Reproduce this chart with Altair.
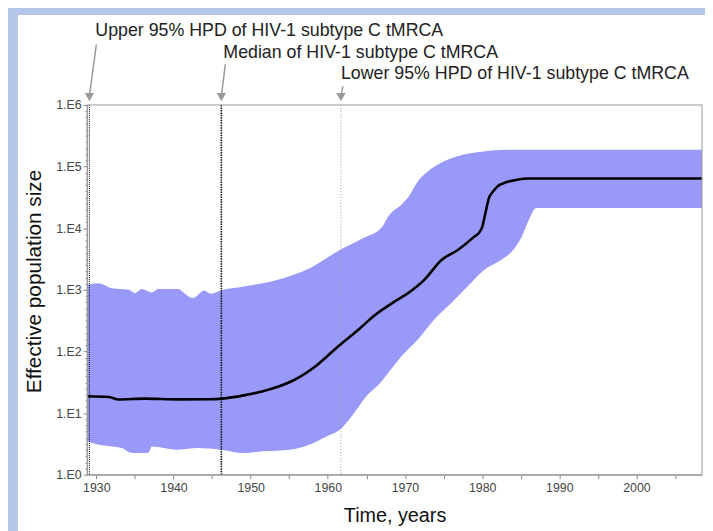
import altair as alt
import pandas as pd

# ---------------- values ----------------
median_year = [1928.8, 1931.6, 1932.9, 1936.3, 1940.6, 1944.8, 1946.3, 1949.1, 1952.5, 1955.5,
               1958.5, 1961.4, 1964.0, 1966.2, 1968.7, 1970.4, 1972.5, 1974.7, 1976.8, 1978.9,
               1979.8, 1980.0, 1980.4, 1980.9, 1981.3, 1981.9, 1983.2, 1984.5, 1986.0, 2008.5]
median_ne = [18.8, 18.3, 16.6, 17.2, 16.7, 16.8, 17.2, 19.4, 24.3, 33.8,
             58.9, 123, 228, 397, 649, 885, 1450, 3030, 4390, 7160,
             9180, 10400, 17000, 31400, 37800, 46600, 56100, 61100, 64000, 64300]

upper_year = [1928.8, 1930.3, 1932.0, 1934.2, 1935.0, 1935.9, 1937.2, 1938.0, 1940.6, 1941.4,
              1942.5, 1944.0, 1944.8, 1946.1, 1949.1, 1953.4, 1957.6, 1961.5, 1964.4, 1967.0,
              1967.9, 1969.6, 1970.4, 1971.7, 1973.0, 1974.7, 1976.8, 1980.2, 1983.2, 2008.5]
upper_ne = [1200, 1280, 1060, 1000, 885, 1030, 906, 1030, 1030, 885,
            736, 975, 863, 975, 1130, 1450, 2230, 4390, 6760, 10400,
            16000, 24600, 31400, 58200, 84100, 115000, 147000, 176000, 188000, 188000]

lower_year = [1928.8, 1930.3, 1932.0, 1933.3, 1934.6, 1936.7, 1937.2, 1940.6, 1943.1, 1946.1,
              1949.1, 1951.7, 1955.1, 1957.6, 1959.8, 1961.5, 1963.2, 1964.9, 1966.6, 1967.9,
              1969.6, 1971.7, 1973.8, 1976.0, 1978.1, 1980.2, 1982.4, 1984.0, 1985.1, 1986.2,
              1987.0, 2008.5]
lower_ne = [3.48, 3.06, 2.88, 2.71, 2.25, 2.25, 2.88, 2.55, 2.71, 2.55,
            2.25, 2.40, 2.55, 3.06, 4.18, 5.33, 9.27, 18.3, 29, 46.1,
            85.1, 158, 330, 612, 1130, 2090, 3030, 4390, 7160, 15000,
            21200, 21200]

hpd_year = [1929.1, 1946.2, 1961.7]
hpd_label = ["Upper 95% HPD of HIV-1 subtype C tMRCA",
             "Median of HIV-1 subtype C tMRCA",
             "Lower 95% HPD of HIV-1 subtype C tMRCA"]

x_domain = [1928.8, 2008.5]
y_domain = [1, 1e6]
x_tick_values = list(range(1930, 2006, 5))
y_tick_values = [10 ** (k + j / 10) for k in range(6) for j in range(10)] + [1e6]

# ---------------- layout ----------------
W, H = 622, 374
FONT = "Liberation Sans"
BAND = "#9999f9"
ARROW = "#9a9a9a"

is_major = "abs(log(datum.value)/LN10 - round(log(datum.value)/LN10)) < 0.01"


def X():
    return alt.X(
        "year:Q",
        scale=alt.Scale(domain=x_domain, nice=False, zero=False),
        title="Time, years",
        axis=alt.Axis(
            values=x_tick_values,
            labelExpr="datum.value % 10 == 0 ? '' + datum.value : ''",
            labelOverlap=False, labelFlush=False, grid=False,
            tickSize=4, tickColor="#888", domainColor="#999",
            labelColor="#444", labelFont=FONT, labelFontSize=12.5, labelPadding=3,
            titleFont=FONT, titleFontSize=20, titleFontWeight="normal", titleColor="#111",
            titleX=W / 2, titleY=41, titleBaseline="middle", zindex=1,
        ),
    )


def Y():
    return alt.Y(
        "ne:Q",
        scale=alt.Scale(type="log", domain=y_domain, nice=False),
        title="Effective population size",
        axis=alt.Axis(
            values=y_tick_values,
            labelExpr=f"{is_major} ? '1.E' + round(log(datum.value)/LN10) : ''",
            labelOverlap=False, labelFlush=False, grid=False,
            tickSize={"condition": {"test": is_major, "value": 4}, "value": 2},
            tickColor="#888", domainColor="#999",
            labelColor="#444", labelFont=FONT, labelFontSize=12.5, labelPadding=2,
            titleFont=FONT, titleFontSize=21, titleFontWeight="normal", titleColor="#111",
            titleX=-53, titleY=178, titleBaseline="middle", titleAlign="center", zindex=1,
        ),
    )


one = pd.DataFrame({"k": [0]})
med_df = pd.DataFrame({"year": median_year, "ne": median_ne})
up_df = pd.DataFrame({"year": upper_year, "ne": upper_ne})
lo_df = pd.DataFrame({"year": lower_year, "ne": lower_ne})
hpd_df = pd.DataFrame({"year": hpd_year, "label": hpd_label})

panel = alt.Chart(one).mark_rect(color="white").encode(
    x=alt.value(-70), x2=alt.value(W + 30), y=alt.value(-91), y2=alt.value(H + 80)
)

band_upper = alt.Chart(up_df).mark_area(color=BAND, opacity=1, interpolate="monotone").encode(
    x=X(), y=Y(), y2=alt.datum(1)
)
band_lower = alt.Chart(lo_df).mark_area(color="white", opacity=1, interpolate="monotone").encode(
    x=X(), y=Y(), y2=alt.datum(1)
)

styles = [
    dict(color="#111", strokeWidth=1, strokeDash=[1, 1]),
    dict(color="#111", strokeWidth=1.6, strokeDash=[1.5, 1]),
    dict(color="#999", strokeWidth=1, strokeDash=[1, 2]),
]
vlines = [
    alt.Chart(hpd_df.iloc[[i]]).mark_rule(**styles[i]).encode(x=X())
    for i in range(3)
]

median_line = alt.Chart(med_df).mark_line(color="black", strokeWidth=2.6, interpolate="monotone").encode(
    x=X(), y=Y()
)

ann_layout = [
    dict(text_dx=6, text_y=-75, top_dx=7, top_y=-61),
    dict(text_dx=2, text_y=-53, top_dx=4, top_y=-41),
    dict(text_dx=0, text_y=-31, top_dx=2, top_y=-19),
]
ann_layers = []
for i, lay in enumerate(ann_layout):
    d = hpd_df.iloc[[i]]
    ann_layers.append(
        alt.Chart(d).mark_text(align="left", baseline="middle", dx=lay["text_dx"],
                               font=FONT, fontSize=18, color="#222").encode(
            x=X(), y=alt.value(lay["text_y"]), text="label:N")
    )
    ann_layers.append(
        alt.Chart(d).mark_rule(color=ARROW, strokeWidth=1.5, xOffset=lay["top_dx"]).encode(
            x=X(), x2="year:Q", y=alt.value(lay["top_y"]), y2=alt.value(-9))
    )
    ann_layers.append(
        alt.Chart(d).mark_point(shape="triangle-down", filled=True, size=90, color=ARROW,
                                opacity=1).encode(x=X(), y=alt.value(-8))
    )

border = alt.Chart(one).mark_rect(fillOpacity=0, stroke="#999", strokeWidth=1).encode(
    x=alt.value(0), x2=alt.value(W), y=alt.value(0), y2=alt.value(H)
)

chart = alt.layer(
    panel, band_upper, band_lower, *vlines, median_line, border, *ann_layers
).properties(
    width=W, height=H,
    autosize=alt.AutoSizeParams(type="none"),
    padding={"left": 80, "top": 95, "right": 3, "bottom": 70},
    background="#b4c6ea",
).configure_view(strokeWidth=0)

chart.save("out.html", embed_options={"renderer": "svg", "actions": False})
